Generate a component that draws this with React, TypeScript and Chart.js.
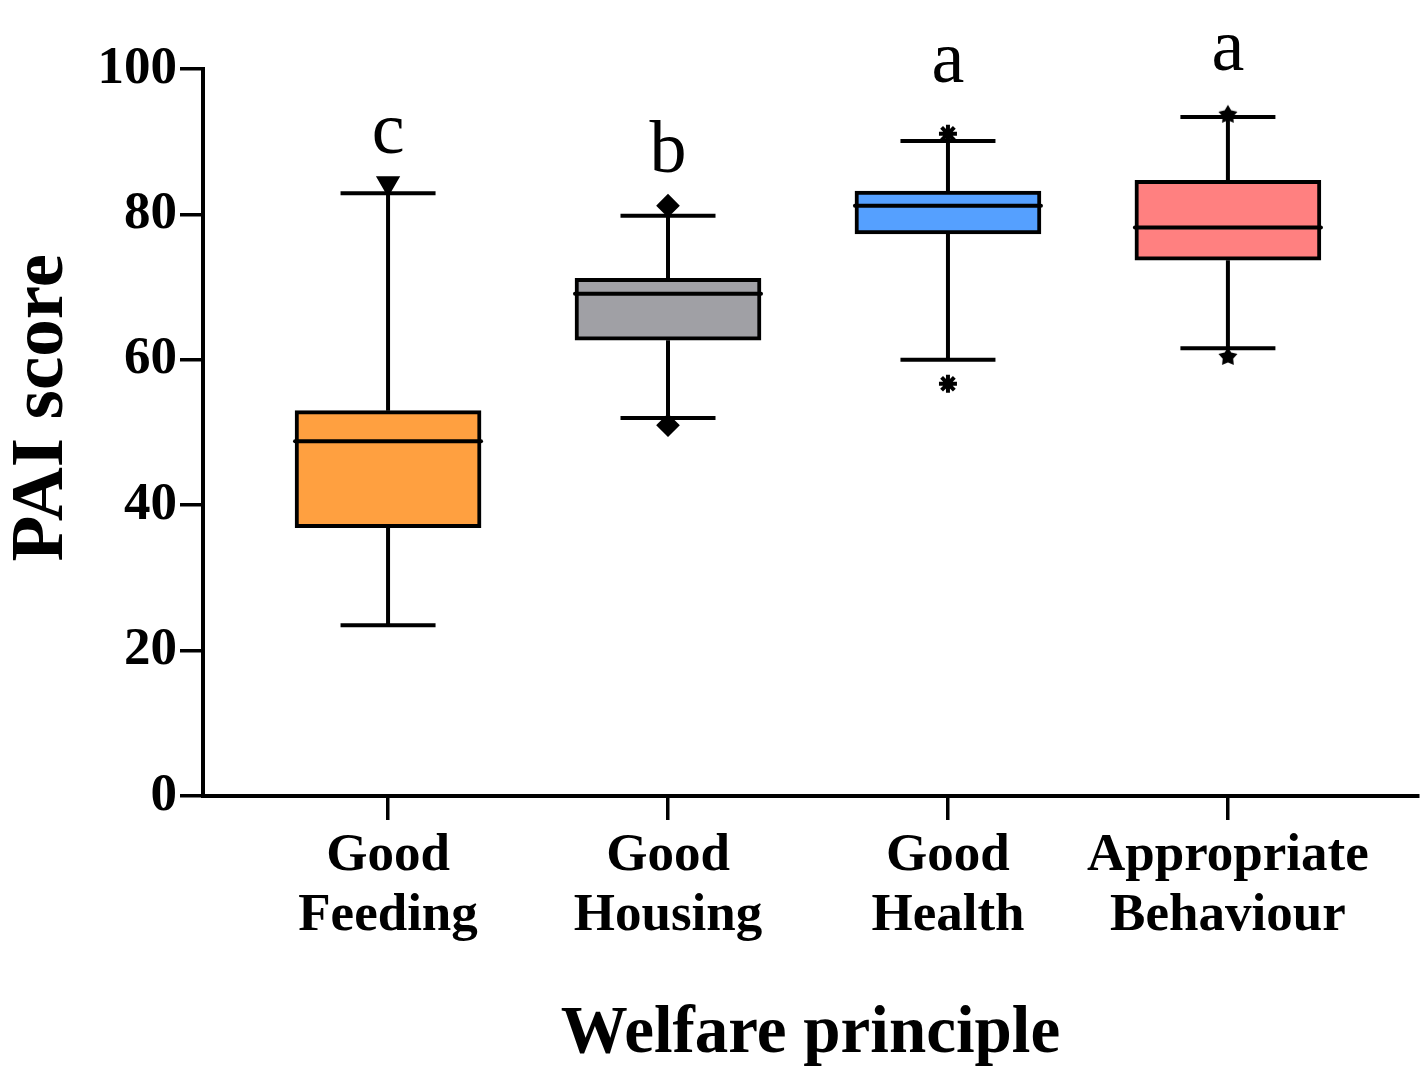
import React, { useEffect, useRef } from "react";
import { Chart, registerables } from "chart.js";

Chart.register(...registerables);

// ---- data ----
const categoryLines: string[][] = [
  ["Good", "Feeding"],
  ["Good", "Housing"],
  ["Good", "Health"],
  ["Appropriate", "Behaviour"],
];
const whiskerLow = [23.5, 52.0, 60.0, 61.6];
const q1 = [36.9, 62.7, 77.3, 73.7];
const median = [48.8, 69.1, 81.2, 78.2];
const q3 = [53.0, 71.2, 83.2, 84.7];
const whiskerHigh = [82.9, 79.8, 90.1, 93.4];
const outlierHigh = [84.3, 81.2, 91.1, 93.7];
const outlierLow: (number | null)[] = [null, 51.0, 56.7, 60.4];
const groupLetters = ["c", "b", "a", "a"];
const letterY = [88.4, 85.8, 98.2, 99.9];
const boxColors = ["#FFA040", "#A0A0A5", "#55A0FF", "#FF8080"];
const yTickValues = [0, 20, 40, 60, 80, 100];
const yTitle = "PAI score";
const xTitle = "Welfare principle";

const SERIF = "'Liberation Serif', 'Times New Roman', serif";

export default function App() {
  const ref = useRef<HTMLCanvasElement | null>(null);

  useEffect(() => {
    const canvas = ref.current;
    if (!canvas) return;

    // filled star marker for the last group
    const star = document.createElement("canvas");
    star.width = 22;
    star.height = 22;
    const sc = star.getContext("2d")!;
    sc.fillStyle = "#000";
    sc.beginPath();
    for (let k = 0; k < 10; k++) {
      const r = k % 2 === 0 ? 10 : 5.5;
      const a = -Math.PI / 2 + (k * Math.PI) / 5;
      sc.lineTo(11 + r * Math.cos(a), 11 + r * Math.sin(a));
    }
    sc.closePath();
    sc.fill();

    const groupStyle: any[] = ["triangle", "rectRot", "star", star];
    const groupRotation = [180, 0, 0, 0];
    const groupRadius = [10, 9, 9, 10];

    const outlierPts: { x: number; y: number }[] = [];
    const ptStyle: any[] = [];
    const ptRot: number[] = [];
    const ptRad: number[] = [];
    categoryLines.forEach((_, i) => {
      const vals = [outlierHigh[i], outlierLow[i]];
      vals.forEach((v) => {
        if (v === null || v === undefined) return;
        outlierPts.push({ x: i, y: v });
        ptStyle.push(groupStyle[i]);
        ptRot.push(groupRotation[i]);
        ptRad.push(groupRadius[i]);
      });
    });

    const boxPlugin = {
      id: "boxParts",
      beforeDatasetsDraw(chart: any) {
        const { ctx, scales } = chart;
        const xs = scales.x;
        const ys = scales.y;
        ctx.save();
        ctx.strokeStyle = "#000";
        ctx.lineWidth = 4;
        ctx.lineCap = "butt";
        categoryLines.forEach((_, i) => {
          const cx = xs.getPixelForValue(i);
          const yLow = ys.getPixelForValue(whiskerLow[i]);
          const yHigh = ys.getPixelForValue(whiskerHigh[i]);
          const yQ1 = ys.getPixelForValue(q1[i]);
          const yQ3 = ys.getPixelForValue(q3[i]);
          ctx.beginPath();
          ctx.moveTo(cx, yQ3);
          ctx.lineTo(cx, yHigh);
          ctx.moveTo(cx, yQ1);
          ctx.lineTo(cx, yLow);
          ctx.moveTo(cx - 47.5, yHigh);
          ctx.lineTo(cx + 47.5, yHigh);
          ctx.moveTo(cx - 47.5, yLow);
          ctx.lineTo(cx + 47.5, yLow);
          ctx.stroke();
        });
        ctx.restore();
      },
      afterDatasetsDraw(chart: any) {
        const { ctx, scales, chartArea } = chart;
        const xs = scales.x;
        const ys = scales.y;
        ctx.save();
        ctx.strokeStyle = "#000";
        ctx.lineWidth = 4;
        ctx.lineCap = "round";
        categoryLines.forEach((_, i) => {
          const cx = xs.getPixelForValue(i);
          const ym = ys.getPixelForValue(median[i]);
          ctx.beginPath();
          ctx.moveTo(cx - 93, ym);
          ctx.lineTo(cx + 93, ym);
          ctx.stroke();
        });
        ctx.fillStyle = "#000";
        ctx.font = `normal 74px ${SERIF}`;
        ctx.textAlign = "center";
        ctx.textBaseline = "alphabetic";
        groupLetters.forEach((t, i) => {
          ctx.fillText(t, xs.getPixelForValue(i), ys.getPixelForValue(letterY[i]));
        });
        // y axis title
        ctx.font = `bold 75px ${SERIF}`;
        ctx.textBaseline = "middle";
        ctx.translate(43, chartArea.top + (chartArea.bottom - chartArea.top) * 0.466);
        ctx.rotate(-Math.PI / 2);
        ctx.fillText(yTitle, 0, 0);
        ctx.restore();
      },
    };

    const chart = new Chart(canvas, {
      type: "bar",
      data: {
        datasets: [
          {
            type: "bar",
            data: categoryLines.map((_, i) => ({ x: i, y: [q1[i], q3[i]] })) as any,
            backgroundColor: boxColors,
            borderColor: "#000",
            borderWidth: 4,
            borderSkipped: false,
            barThickness: 186,
            order: 2,
          } as any,
          {
            type: "scatter",
            data: outlierPts as any,
            pointStyle: ptStyle,
            rotation: ptRot,
            pointRadius: ptRad,
            backgroundColor: "#000",
            borderColor: "#000",
            borderWidth: 4,
            clip: false,
            order: 1,
          } as any,
        ],
      },
      options: {
        animation: false,
        responsive: false,
        maintainAspectRatio: false,
        layout: { autoPadding: false, padding: { top: 69, right: 3, bottom: 0, left: 0 } },
        plugins: { legend: { display: false }, tooltip: { enabled: false } },
        scales: {
          x: {
            type: "linear",
            min: -0.661,
            max: 3.679,
            offset: false,
            afterFit: (s: any) => {
              s.height = 279;
              s.paddingLeft = 0;
              s.paddingRight = 0;
            },
            afterBuildTicks: (s: any) => {
              s.ticks = categoryLines.map((_, i) => ({ value: i }));
            },
            grid: {
              offset: false,
              drawOnChartArea: false,
              drawTicks: true,
              tickLength: 24,
              lineWidth: 3.5,
              color: "#000",
            },
            border: { display: true, width: 4, color: "#000" },
            ticks: {
              autoSkip: false,
              maxRotation: 0,
              minRotation: 0,
              padding: 6,
              color: "#000",
              font: { family: SERIF, size: 53, weight: "bold", lineHeight: 1.13 },
              callback: (v: any) => categoryLines[Math.round(Number(v))] ?? "",
            },
            title: {
              display: true,
              text: xTitle,
              color: "#000",
              font: { family: SERIF, size: 67, weight: "bold", lineHeight: 1.2 },
              padding: 0,
            },
          } as any,
          y: {
            type: "linear",
            min: 0,
            max: 100,
            afterFit: (s: any) => {
              s.width = 203;
            },
            afterBuildTicks: (s: any) => {
              s.ticks = yTickValues.map((v) => ({ value: v }));
            },
            grid: {
              drawOnChartArea: false,
              drawTicks: true,
              tickLength: 23,
              lineWidth: 3.5,
              color: "#000",
            },
            border: { display: true, width: 4, color: "#000" },
            ticks: {
              padding: 3,
              color: "#000",
              font: { family: SERIF, size: 53, weight: "bold" },
            },
            title: { display: false },
          } as any,
        },
      } as any,
      plugins: [boxPlugin],
    });

    return () => chart.destroy();
  }, []);

  return (
    <div style={{ position: "absolute", left: 0, top: 0, width: 1421, height: 1075, background: "#fff" }}>
      <canvas ref={ref} width={1421} height={1075} />
    </div>
  );
}
